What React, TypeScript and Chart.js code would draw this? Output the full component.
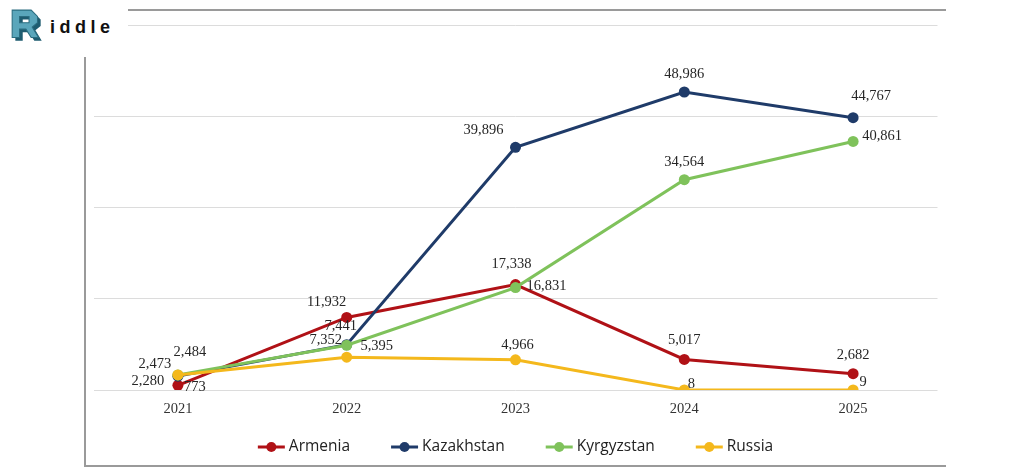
import React, { useEffect, useRef } from "react";
import { Chart, registerables } from "chart.js";

Chart.register(...registerables);

// ---- data ----
const YEARS = ["2021", "2022", "2023", "2024", "2025"];
const ARMENIA = [773, 11932, 17338, 5017, 2682];
const KAZAKHSTAN = [2280, 7441, 39896, 48986, 44767];
const KYRGYZSTAN = [2484, 7352, 16831, 34564, 40861];
const RUSSIA = [2473, 5395, 4966, 8, 9];
const SERIES_NAMES = ["Armenia", "Kazakhstan", "Kyrgyzstan", "Russia"];
const Y_MAX = 60000;
const Y_STEP = 15000;

// ---- styles ----
const COLORS = ["#b01116", "#1f3b69", "#7fc25b", "#f4b81c"];
// label offsets (px) relative to each point, per series
const LABEL_OFFSETS: number[][][] = [
  [[17, 2], [-20, -15], [-4, -20], [0, -19], [0, -18]],
  [[-30, 5], [-6, -19], [-32, -17], [0, -18], [18, -21]],
  [[12, -23], [-21, -5], [31, -1], [0, -18], [29, -5]],
  [[-23, -11], [30, -11], [2, -15], [7, -6], [10, -8]],
];

const SERIF = '"Liberation Serif", "Times New Roman", serif';
const SANS = '"Open Sans", "Noto Sans", sans-serif';

const labelPlugin = {
  id: "pointLabels",
  afterDatasetsDraw(chart: any) {
    const ctx = chart.ctx;
    ctx.save();
    ctx.font = `14.5px ${SERIF}`;
    ctx.fillStyle = "#262626";
    ctx.textAlign = "center";
    ctx.textBaseline = "middle";
    chart.data.datasets.forEach((ds: any, i: number) => {
      const meta = chart.getDatasetMeta(i);
      meta.data.forEach((pt: any, j: number) => {
        const v = ds.data[j] as number;
        const off = LABEL_OFFSETS[i][j];
        ctx.fillText(v.toLocaleString("en-US"), pt.x + off[0], pt.y + off[1]);
      });
    });
    ctx.restore();
  },
};

const framePlugin = {
  id: "frame",
  beforeDraw(chart: any) {
    const ctx = chart.ctx;
    ctx.save();
    ctx.fillStyle = "#ffffff";
    ctx.fillRect(0, 0, chart.width, chart.height);
    ctx.strokeStyle = "#9a9a9a";
    ctx.lineWidth = 2;
    ctx.beginPath();
    ctx.moveTo(946, 10);
    ctx.lineTo(85, 10);
    ctx.lineTo(85, 466);
    ctx.lineTo(946, 466);
    ctx.stroke();
    ctx.restore();
  },
};

const legendPlugin = {
  id: "customLegend",
  afterDraw(chart: any) {
    const ctx = chart.ctx;
    const area = chart.chartArea;
    ctx.save();
    ctx.font = `15.5px ${SANS}`;
    ctx.textBaseline = "middle";
    const markerW = 27;
    const afterMarker = 4;
    const itemGap = 41;
    const names = chart.data.datasets.map((d: any) => d.label as string);
    const widths = names.map((n: string) => ctx.measureText(n).width);
    const total =
      widths.reduce((a: number, w: number) => a + markerW + afterMarker + w, 0) +
      itemGap * (names.length - 1);
    let x = (area.left + area.right) / 2 - total / 2;
    const y = 447;
    names.forEach((n: string, i: number) => {
      const c = chart.data.datasets[i].borderColor;
      ctx.strokeStyle = c;
      ctx.fillStyle = c;
      ctx.lineWidth = 3;
      ctx.beginPath();
      ctx.moveTo(x, y);
      ctx.lineTo(x + markerW, y);
      ctx.stroke();
      ctx.beginPath();
      ctx.arc(x + markerW / 2, y, 5, 0, Math.PI * 2);
      ctx.fill();
      x += markerW + afterMarker;
      ctx.fillStyle = "#222222";
      ctx.textAlign = "left";
      ctx.fillText(n, x, y);
      x += widths[i] + itemGap;
    });
    ctx.restore();
  },
};

export default function App() {
  const ref = useRef<HTMLCanvasElement | null>(null);

  useEffect(() => {
    if (!ref.current) return;
    const seriesValues = [ARMENIA, KAZAKHSTAN, KYRGYZSTAN, RUSSIA];
    const chart = new Chart(ref.current, {
      type: "line",
      data: {
        labels: YEARS,
        datasets: seriesValues.map((vals, i) => ({
          label: SERIES_NAMES[i],
          data: vals,
          borderColor: COLORS[i],
          backgroundColor: COLORS[i],
          pointBackgroundColor: COLORS[i],
          pointBorderColor: COLORS[i],
          pointBorderWidth: 0,
          pointRadius: 5.5,
          borderWidth: 3,
          tension: 0,
          fill: false,
          order: seriesValues.length - i,
        })),
      },
      options: {
        responsive: false,
        animation: false,
        devicePixelRatio: window.devicePixelRatio || 1,
        layout: { padding: { left: 93.5, right: 86.5, top: 25, bottom: 52 } },
        plugins: {
          legend: { display: false },
          tooltip: { enabled: false },
        },
        scales: {
          x: {
            type: "category",
            offset: true,
            grid: { display: false, drawTicks: false },
            border: { display: false },
            ticks: {
              color: "#333333",
              font: { family: SERIF, size: 14.5 },
              padding: 10,
              maxRotation: 0,
            },
            afterFit: (s: any) => {
              s.height = 34;
            },
          },
          y: {
            min: 0,
            max: Y_MAX,
            ticks: { stepSize: Y_STEP, display: false },
            grid: { color: "#dcdcdc", lineWidth: 1, drawTicks: false },
            border: { display: false },
            afterFit: (s: any) => {
              s.width = 0;
            },
          },
        },
      } as any,
      plugins: [framePlugin, labelPlugin, legendPlugin],
    });
    return () => chart.destroy();
  }, []);

  return (
    <div
      style={{
        position: "absolute",
        left: 0,
        top: 0,
        width: 1024,
        height: 476,
        background: "#ffffff",
        overflow: "hidden",
      }}
    >
      <canvas
        ref={ref}
        width={1024}
        height={476}
        style={{ width: 1024, height: 476, display: "block" }}
      />
      <div
        style={{
          position: "absolute",
          left: 0,
          top: 0,
          width: 128,
          height: 57,
          background: "#ffffff",
        }}
      >
        <svg
          width="36"
          height="38"
          viewBox="0 0 34 36"
          style={{ position: "absolute", left: 10, top: 8 }}
        >
          <path
            d="M5 5 H23 L29 11 V17 L24 21 L30 31 H23 L18 23 H12 V31 H5 Z M12 11 H21 V17 H12 Z"
            fill="#1e5c70"
            fillRule="evenodd"
          />
          <path
            d="M2 2 H20 L26 8 V14 L21 18 L27 28 H20 L15 20 H9 V28 H2 Z M9 8 H18 V14 H9 Z"
            fill="#5aa6bb"
            stroke="#2a6d80"
            strokeWidth="1"
            fillRule="evenodd"
          />
        </svg>
        <span
          style={{
            position: "absolute",
            left: 50,
            top: 16,
            fontFamily: '"Liberation Sans", Arial, sans-serif',
            fontWeight: 700,
            fontSize: 18,
            letterSpacing: 4.5,
            color: "#111111",
            lineHeight: "22px",
          }}
        >
          iddle
        </span>
      </div>
    </div>
  );
}
